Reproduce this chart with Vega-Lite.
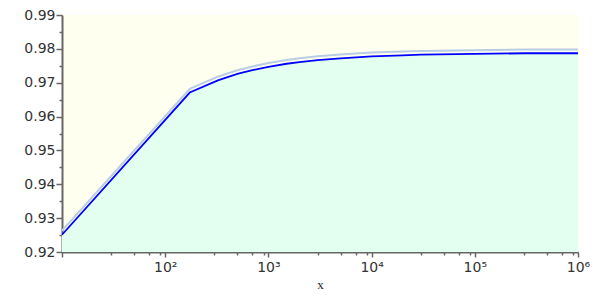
{
  "$schema": "https://vega.github.io/schema/vega-lite/v6.json",
  "width": 516,
  "height": 237,
  "autosize": {"type": "none"},
  "padding": {"left": 62, "top": 15, "right": 22, "bottom": 48},
  "background": "white",
  "config": {
    "view": {"fill": "#FFFFF0", "stroke": null},
    "axis": {
      "grid": false,
      "domainColor": "#666666",
      "domainWidth": 2,
      "tickColor": "#666666",
      "tickWidth": 1.5,
      "labelFont": "DejaVu Sans",
      "labelFontSize": 14,
      "labelColor": "#333333"
    }
  },
  "data": {
    "values": [
      {"x": 10, "blue": 0.9251, "gray": 0.9263},
      {"x": 173, "blue": 0.9671, "gray": 0.9682},
      {"x": 324, "blue": 0.9707, "gray": 0.9718},
      {"x": 500, "blue": 0.9726, "gray": 0.9737},
      {"x": 700, "blue": 0.9737, "gray": 0.9748},
      {"x": 1000, "blue": 0.9747, "gray": 0.9758},
      {"x": 1500, "blue": 0.9756, "gray": 0.9767},
      {"x": 2000, "blue": 0.9761, "gray": 0.9772},
      {"x": 3000, "blue": 0.9767, "gray": 0.9778},
      {"x": 5000, "blue": 0.9772, "gray": 0.9783},
      {"x": 10000, "blue": 0.9778, "gray": 0.9789},
      {"x": 20000, "blue": 0.9781, "gray": 0.9792},
      {"x": 30000, "blue": 0.9783, "gray": 0.9794},
      {"x": 100000, "blue": 0.9785, "gray": 0.9796},
      {"x": 300000, "blue": 0.9787, "gray": 0.9798},
      {"x": 1000000, "blue": 0.9787, "gray": 0.9798}
    ]
  },
  "encoding": {
    "x": {
      "field": "x",
      "type": "quantitative",
      "scale": {"type": "log", "domain": [10, 1000000], "nice": false},
      "axis": {
        "title": "x",
        "titleFont": "Liberation Serif",
        "titleFontSize": 13,
        "titleFontWeight": "normal",
        "titleColor": "#222222",
        "titlePadding": 4,
        "values": [10, 30, 50, 70, 90, 100, 300, 500, 700, 900, 1000, 3000, 5000, 7000, 9000, 10000, 30000, 50000, 70000, 90000, 100000, 300000, 500000, 700000, 900000, 1000000],
        "labelExpr": "datum.value == 100 ? '10²' : datum.value == 1000 ? '10³' : datum.value == 10000 ? '10⁴' : datum.value == 100000 ? '10⁵' : datum.value == 1000000 ? '10⁶' : ''",
        "tickSize": {"condition": {"test": "indexof([10,100,1000,10000,100000,1000000], datum.value) >= 0", "value": 5}, "value": 3},
        "labelFontSize": 14,
        "labelPadding": 3,
        "labelFlush": false,
        "labelOverlap": false
      }
    },
    "y": {
      "field": "blue",
      "type": "quantitative",
      "scale": {"domain": [0.92, 0.99], "zero": false, "nice": false},
      "axis": {
        "title": null,
        "values": [0.92, 0.925, 0.93, 0.935, 0.94, 0.945, 0.95, 0.955, 0.96, 0.965, 0.97, 0.975, 0.98, 0.985, 0.99],
        "labelExpr": "abs(datum.value*100 - round(datum.value*100)) < 0.01 ? format(datum.value, '.2f') : ''",
        "tickSize": {"condition": {"test": "abs(datum.value*100 - round(datum.value*100)) < 0.01", "value": 6}, "value": 3},
        "labelPadding": 1,
        "labelOverlap": false,
        "labelFlush": false
      }
    }
  },
  "layer": [
    {
      "mark": {"type": "area", "color": "#E2FFF0", "clip": true}
    },
    {
      "mark": {"type": "line", "color": "#B8CCE4", "strokeWidth": 2, "clip": true},
      "encoding": {
        "y": {
          "field": "gray",
          "type": "quantitative",
          "scale": {"domain": [0.92, 0.99], "zero": false, "nice": false},
          "axis": {
            "title": null,
            "values": [0.92, 0.925, 0.93, 0.935, 0.94, 0.945, 0.95, 0.955, 0.96, 0.965, 0.97, 0.975, 0.98, 0.985, 0.99],
            "labelExpr": "abs(datum.value*100 - round(datum.value*100)) < 0.01 ? format(datum.value, '.2f') : ''",
            "tickSize": {"condition": {"test": "abs(datum.value*100 - round(datum.value*100)) < 0.01", "value": 6}, "value": 3},
            "labelPadding": 1,
            "labelOverlap": false,
            "labelFlush": false
          }
        }
      }
    },
    {
      "mark": {"type": "line", "color": "#0000FF", "strokeWidth": 1.8, "clip": true}
    }
  ]
}
